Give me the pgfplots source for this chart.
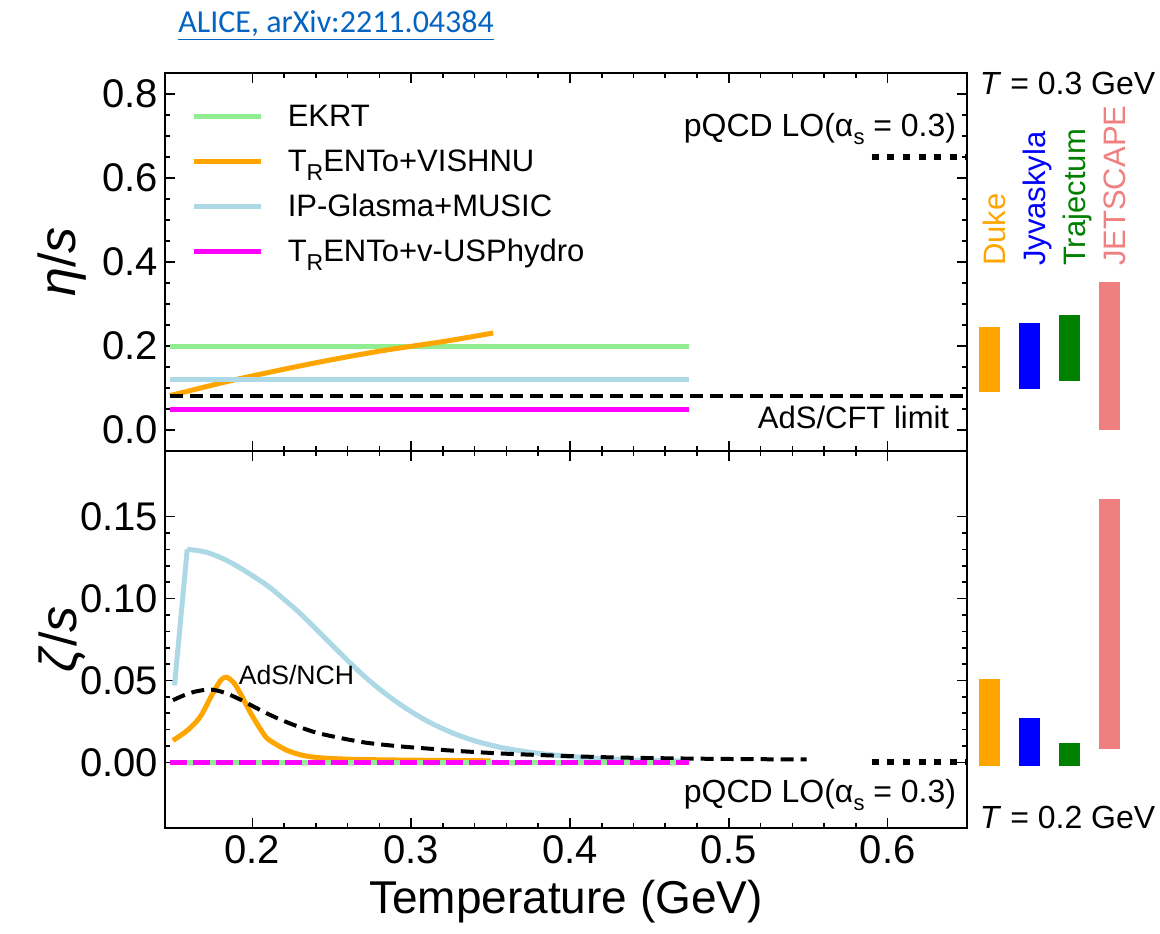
\documentclass[border=0pt]{standalone}
\usepackage{pgfplots}
\pgfplotsset{compat=1.18}
\usepackage{fontspec}
\setmainfont{Liberation Sans}
\newfontfamily\linkfont{Carlito}
\definecolor{ekrt}{HTML}{90EE90}
\definecolor{trorange}{HTML}{FFA500}
\definecolor{ipblue}{HTML}{ADD8E6}
\definecolor{vmag}{HTML}{FF00FF}
\definecolor{jyv}{HTML}{0000FF}
\definecolor{traj}{HTML}{008000}
\definecolor{jet}{HTML}{F08080}
\definecolor{linkc}{HTML}{0563C1}
\newcommand{\fsz}[1]{\fontsize{#1}{#1}\selectfont}
\newcommand{\TR}{T\raisebox{-0.28em}{\fsz{11.5}R}}
\pgfplotsset{
  base/.style={
    scale only axis, width=401pt, xmin=0.145, xmax=0.65, clip=false,
    axis line style={line width=1.3pt},
    major tick length=5pt, minor tick length=2.5pt,
    tick style={black, line width=0.8pt},
    xtick={0.2,0.3,0.4,0.5,0.6}, minor x tick num=4,
    tick label style={font=\fsz{20}},
    /pgf/number format/assume math mode=true,
    /pgf/number format/fixed, /pgf/number format/fixed zerofill,
    xticklabel style={/pgf/number format/precision=1},
    label style={font=\fsz{26}},
    ylabel style={at={(axis description cs:-0.128,0.5)}, anchor=center},
  },
  curve/.style={line width=2.5pt, line join=round},
  bar/.style={line width=10.5pt, line cap=butt},
}
\begin{document}
\begin{tikzpicture}
\useasboundingbox (0,0) rectangle (580pt,466.5pt);
\node[anchor=base west, inner sep=0pt, text=linkc, font=\linkfont\fsz{16}] at (89pt,450pt) {\underline{ALICE, arXiv:2211.04384}};
% ---------------- top panel ----------------
\begin{axis}[base, at={(82.5pt,241pt)}, anchor=south west, height=189pt,
  ymin=-0.05, ymax=0.85, ytick={0,0.2,0.4,0.6,0.8}, minor y tick num=3,
  xticklabels={},
  yticklabel style={/pgf/number format/precision=1},
  ylabel={\textit{η}/\textit{s}},
  legend style={at={(axis cs:0.1616,0.783)}, anchor=north west, draw=none, fill=none,
    font=\fsz{15.5}, row sep=8pt, inner sep=0pt,
    nodes={inner sep=0pt, text height=12.5pt, text depth=2pt},
    cells={anchor=west},
    /tikz/every odd column/.append style={column sep=12pt}},
  legend image code/.code={\draw[#1, line width=2.5pt] (0pt,0pt) -- (33.5pt,0pt);},
]
\addplot[curve, ekrt] coordinates {(0.148,0.2) (0.475,0.2)};
\addlegendentry{EKRT}
\addplot[curve, trorange, smooth] coordinates {(0.148,0.082) (0.1547,0.088) (0.1906,0.121) (0.2385,0.159) (0.2805,0.188) (0.3226,0.212) (0.3516,0.231)};
\addlegendentry{\TR ENTo+VISHNU}
\addplot[curve, ipblue] coordinates {(0.148,0.12) (0.475,0.12)};
\addlegendentry{IP-Glasma+MUSIC}
\addplot[curve, vmag] coordinates {(0.148,0.05) (0.475,0.05)};
\addlegendentry{\TR ENTo+v-USPhydro}
\addplot[forget plot, black, line width=2pt, dash pattern=on 6.5pt off 3.5pt] coordinates {(0.148,0.08) (0.65,0.08)};
\addplot[forget plot, black, line width=3pt, dash pattern=on 3.5pt off 4.3pt] coordinates {(0.59,0.65) (0.65,0.65)};
% bars
\addplot[forget plot, bar, trorange] coordinates {(0.6642,0.090) (0.6642,0.245)};
\addplot[forget plot, bar, jyv] coordinates {(0.6893,0.098) (0.6893,0.255)};
\addplot[forget plot, bar, traj] coordinates {(0.7145,0.117) (0.7145,0.274)};
\addplot[forget plot, bar, jet] coordinates {(0.7396,0.0) (0.7396,0.352)};
\node[anchor=base east, inner sep=0pt, font=\fsz{16}] at (axis cs:0.6434,0.698) {pQCD LO(α\raisebox{-0.25em}{\fsz{11}s} = 0.3)};
\node[anchor=base east, inner sep=0pt, font=\fsz{15.5}] at (axis cs:0.639,0.003) {AdS/CFT limit};
\node[anchor=base west, inner sep=0pt, font=\fsz{16}] at (axis cs:0.6579,0.8) {\textit{T} = 0.3 GeV};
\node[rotate=90, anchor=base west, inner sep=0pt, font=\fsz{15.5}, text=trorange] at (axis cs:0.6742,0.39) {Duke};
\node[rotate=90, anchor=base west, inner sep=0pt, font=\fsz{15.5}, text=jyv] at (axis cs:0.6994,0.39) {Jyvaskyla};
\node[rotate=90, anchor=base west, inner sep=0pt, font=\fsz{15.5}, text=traj] at (axis cs:0.7245,0.39) {Trajectum};
\node[rotate=90, anchor=base west, inner sep=0pt, font=\fsz{15.5}, text=jet] at (axis cs:0.7497,0.39) {JETSCAPE};
\end{axis}
% ---------------- bottom panel ----------------
\begin{axis}[base, at={(82.5pt,52.5pt)}, anchor=south west, height=188.5pt,
  ymin=-0.04, ymax=0.19, ytick={0,0.05,0.1,0.15}, minor y tick num=4,
  yticklabel style={/pgf/number format/precision=2},
  xlabel={Temperature (GeV)},
  xlabel style={font=\fsz{23}, at={(axis description cs:0.5,-0.228)}, anchor=base},
  ylabel={\textit{ζ}/\textit{s}},
]
\addplot[curve, ipblue] coordinates {(0.151,0.047) (0.159,0.130)};
\addplot[curve, ipblue, smooth] coordinates {(0.159,0.1300) (0.170,0.1285) (0.180,0.1250) (0.190,0.1200) (0.200,0.1140) (0.210,0.1075) (0.220,0.0995) (0.230,0.0910) (0.240,0.0815) (0.250,0.0718) (0.260,0.0622) (0.270,0.0530) (0.280,0.0448) (0.290,0.0375) (0.300,0.0310) (0.310,0.0253) (0.320,0.0205) (0.330,0.0165) (0.340,0.0132) (0.350,0.0106) (0.360,0.0085) (0.375,0.0062) (0.390,0.0045) (0.410,0.0029) (0.440,0.0015) (0.475,0.0008)};
\addplot[curve, trorange, smooth] coordinates {(0.150,0.0134) (0.159,0.0195) (0.167,0.0276) (0.175,0.042) (0.180,0.050) (0.1836,0.052) (0.188,0.049) (0.1925,0.042) (0.199,0.030) (0.204,0.022) (0.209,0.015) (0.215,0.011) (0.222,0.0073) (0.231,0.0045) (0.241,0.003) (0.26,0.002) (0.29,0.0015) (0.35,0.001)};
\addplot[black, line width=2pt, dash pattern=on 6.5pt off 3.5pt, smooth] coordinates {(0.150,0.038) (0.157,0.041) (0.163,0.043) (0.172,0.0445) (0.178,0.0438) (0.184,0.042) (0.191,0.039) (0.199,0.035) (0.209,0.030) (0.219,0.0256) (0.230,0.0215) (0.241,0.018) (0.256,0.0148) (0.272,0.012) (0.293,0.0098) (0.314,0.0082) (0.3245,0.0073) (0.356,0.0055) (0.39,0.0042) (0.43,0.003) (0.49,0.0022) (0.549,0.0018)};
\addplot[curve, ekrt] coordinates {(0.148,0) (0.475,0)};
\addplot[curve, vmag, dash pattern=on 8.5pt off 3pt] coordinates {(0.148,0) (0.475,0)};
\addplot[black, line width=3pt, dash pattern=on 3.5pt off 4.3pt] coordinates {(0.59,0) (0.65,0)};
% bars
\addplot[bar, trorange] coordinates {(0.6642,-0.002) (0.6642,0.051)};
\addplot[bar, jyv] coordinates {(0.6893,-0.002) (0.6893,0.027)};
\addplot[bar, traj] coordinates {(0.7145,-0.002) (0.7145,0.012)};
\addplot[bar, jet] coordinates {(0.7396,0.0085) (0.7396,0.161)};
\node[anchor=base west, inner sep=0pt, font=\fsz{13.3}] at (axis cs:0.1912,0.0476) {AdS/NCH};
\node[anchor=base east, inner sep=0pt, font=\fsz{16}] at (axis cs:0.6434,-0.0244) {pQCD LO(α\raisebox{-0.25em}{\fsz{11}s} = 0.3)};
\node[anchor=base west, inner sep=0pt, font=\fsz{16}] at (axis cs:0.6579,-0.0402) {\textit{T} = 0.2 GeV};
\end{axis}
\end{tikzpicture}
\end{document}
